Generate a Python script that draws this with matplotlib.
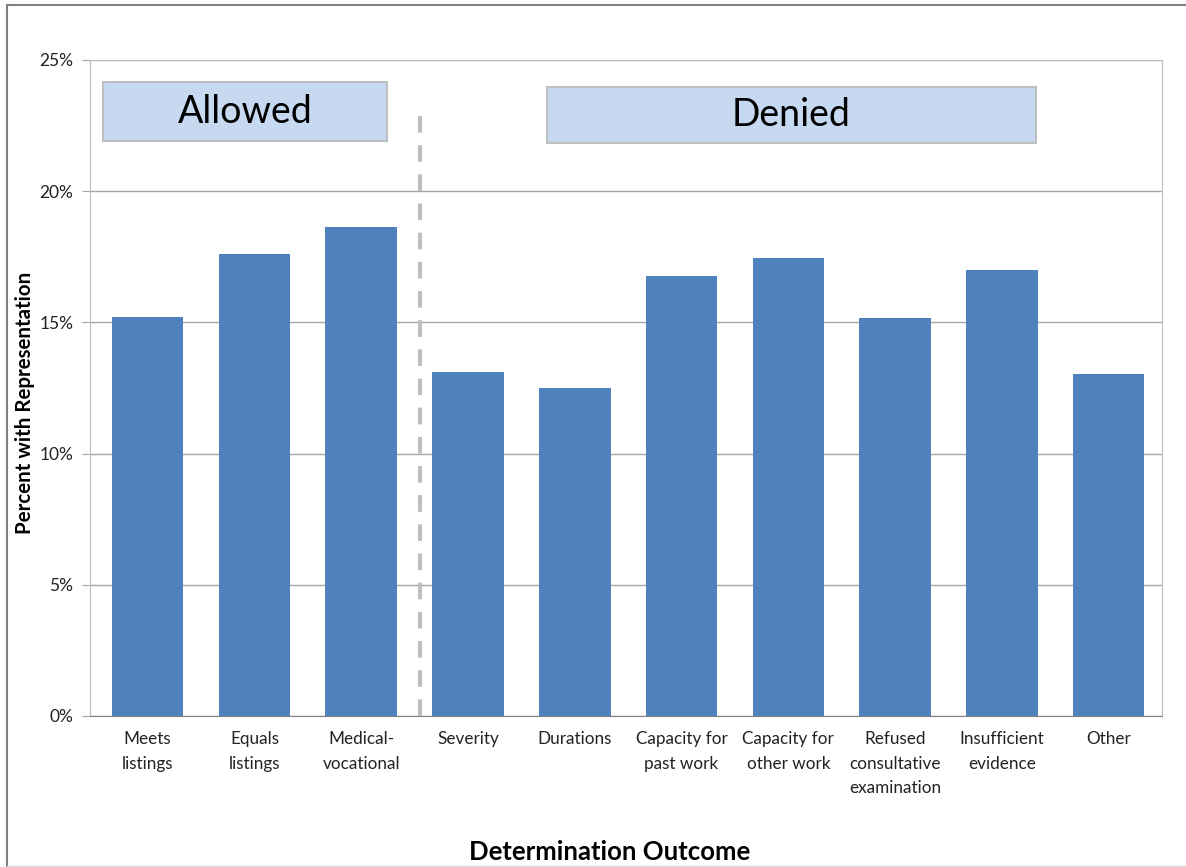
import matplotlib.pyplot as plt
from matplotlib.patches import Rectangle
from matplotlib.lines import Line2D
import numpy as np

# Data
categories = ["Meets\nlistings", "Equals\nlistings", "Medical-\nvocational",
              "Severity", "Durations", "Capacity for\npast work",
              "Capacity for\nother work", "Refused\nconsultative\nexamination",
              "Insufficient\nevidence", "Other"]
values = [15.2, 17.6, 18.65, 13.1, 12.5, 16.75, 17.45, 15.15, 17.0, 13.05]
y_ticks = [0, 5, 10, 15, 20, 25]
y_tick_labels = ["0%", "5%", "10%", "15%", "20%", "25%"]

plt.rcParams['font.family'] = ['Lato', 'DejaVu Sans']

bar_color = '#4F81BD'
grid_color = '#A6A6A6'

fig = plt.figure(figsize=(11.86, 8.67), dpi=100)
ax = fig.add_axes([0.0759, 0.1742, 0.9039, 0.7566])

x = np.arange(len(categories))
ax.bar(x, values, width=0.67, color=bar_color, zorder=3)

ax.set_xlim(-0.54, len(categories) - 0.5)
ax.set_ylim(0, 25)
ax.set_yticks(y_ticks)
ax.set_yticklabels(y_tick_labels, fontsize=12.5, color='#222222')
ax.set_xticks(x)
ax.set_xticklabels(categories, fontsize=12.3, color='#222222', linespacing=1.65)
ax.tick_params(axis='x', length=0, pad=11)
ax.tick_params(axis='y', length=6, color=grid_color, pad=6)

ax.grid(axis='y', color=grid_color, linewidth=1, zorder=0)
for side in ['left', 'top', 'right']:
    ax.spines[side].set_color('#BFBFBF')
ax.spines['bottom'].set_color('#808080')

# axis titles placed like the original
fig.text(25 / 1186, 1 - 403 / 867, "Percent with Representation", rotation=90,
         ha='center', va='center', fontsize=14.8, fontweight='bold')
fig.text(610 / 1186, 1 - 852 / 867, "Determination Outcome",
         ha='center', va='center', fontsize=18.5, fontweight='bold')

# divider between allowed and denied outcomes
ax.plot([2.55, 2.55], [0, 23.2], color='#BFBFBF', linestyle=(0, (4, 3)),
        linewidth=3, zorder=4)

# group header boxes
ax.add_patch(Rectangle((0.012, 0.8765), 0.265, 0.0895, transform=ax.transAxes,
                       facecolor='#C6D9F1', edgecolor='#BFBFBF', linewidth=1.5, zorder=5))
ax.text(0.1445, 0.921, "Allowed", transform=ax.transAxes, ha='center', va='center',
        fontsize=27, zorder=6)
ax.add_patch(Rectangle((0.426, 0.8735), 0.4565, 0.0853, transform=ax.transAxes,
                       facecolor='#C6D9F1', edgecolor='#BFBFBF', linewidth=1.5, zorder=5))
ax.text(0.6543, 0.9162, "Denied", transform=ax.transAxes, ha='center', va='center',
        fontsize=27, zorder=6)

# outer frame of the original chart
fig.add_artist(Line2D([0.006, 1.0], [0.994, 0.994], transform=fig.transFigure,
                      color='#808080', linewidth=1.5))
fig.add_artist(Line2D([0.006, 0.006], [0.0, 0.994], transform=fig.transFigure,
                      color='#808080', linewidth=1.5))
fig.add_artist(Line2D([0.006, 1.0], [0.001, 0.001], transform=fig.transFigure,
                      color='#D9D9D9', linewidth=1))

fig.savefig("out.png", dpi=100)
